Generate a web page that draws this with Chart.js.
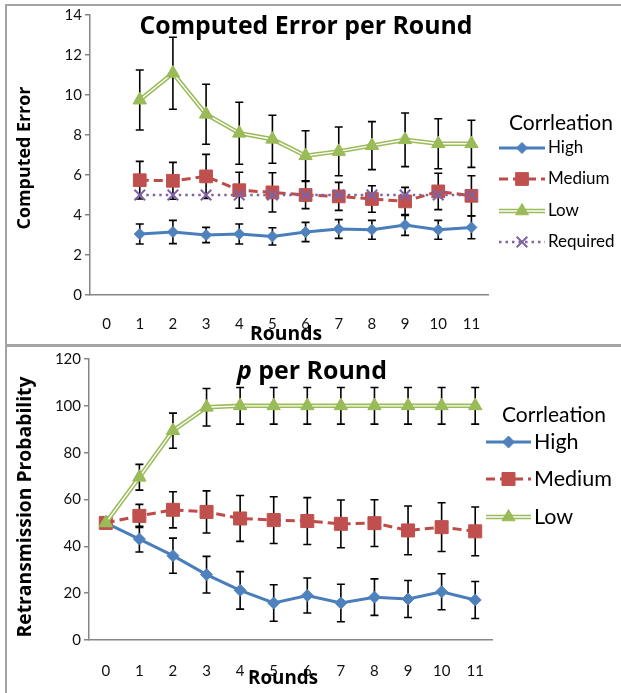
<!DOCTYPE html>
<html>
<head>
<meta charset="utf-8">
<script src="https://cdn.jsdelivr.net/npm/chart.js@4.4.0/dist/chart.umd.min.js"></script>
<style>
  body { margin: 0; background: #fff; width: 621px; height: 693px; overflow: hidden; position: relative; }
  .caixa { position: absolute; box-sizing: border-box; border: 2px solid #a3a3a3; background: #fff; }
  canvas { position: absolute; left: 0; }
</style>
</head>
<body>
<div class="caixa" style="left:5px; top:4px; width:700px; height:342px;"></div>
<div class="caixa" style="left:5px; top:345px; width:700px; height:400px;"></div>
<canvas id="graficoErro" width="621" height="345" style="top:0"></canvas>
<canvas id="graficoProb" width="621" height="348" style="top:345px"></canvas>
<script>
// Dados
const rodadas = ['0', '1', '2', '3', '4', '5', '6', '7', '8', '9', '10', '11'];

// Gráfico de cima: erro calculado por rodada
const erroAlta = [null, 3.05, 3.15, 3.0, 3.05, 2.93, 3.15, 3.3, 3.26, 3.5, 3.26, 3.38];
const erroAltaDesvio = [null, 0.5, 0.58, 0.38, 0.5, 0.43, 0.48, 0.47, 0.47, 0.52, 0.47, 0.57];
const erroMedia = [null, 5.74, 5.71, 5.93, 5.24, 5.13, 5.0, 4.93, 4.8, 4.68, 5.18, 4.96];
const erroMediaDesvio = [null, 0.94, 0.92, 1.1, 0.9, 0.98, 0.68, 0.7, 0.66, 0.7, 0.91, 1.0];
const erroBaixa = [null, 9.75, 11.09, 9.04, 8.09, 7.79, 6.96, 7.18, 7.47, 7.76, 7.56, 7.56];
const erroBaixaDesvio = [null, 1.5, 1.8, 1.5, 1.55, 1.2, 1.25, 1.22, 1.2, 1.34, 1.25, 1.18];
const erroRequerido = [null, 5, 5, 5, 5, 5, 5, 5, 5, 5, 5, 5];
const ticksErro = [0, 2, 4, 6, 8, 10, 12, 14];

// Gráfico de baixo: probabilidade de retransmissão
const probAlta = [50, 43.1, 36.0, 27.9, 21.2, 15.8, 19.0, 15.8, 18.3, 17.5, 20.6, 17.1];
const probAltaDesvio = [0, 5.5, 7.5, 7.8, 8.0, 7.8, 7.5, 8.0, 7.8, 7.9, 7.7, 7.9];
const probMedia = [50, 53.0, 55.6, 54.7, 51.9, 51.2, 50.8, 49.6, 49.9, 46.8, 48.2, 46.4];
const probMediaDesvio = [0, 4.9, 7.7, 9.0, 9.8, 10.0, 10.0, 10.2, 10.0, 10.4, 10.4, 10.4];
const probBaixa = [50, 69.5, 89.4, 99.4, 100, 100, 100, 100, 100, 100, 100, 100];
const probBaixaDesvio = [0, 5.5, 7.5, 8.0, 7.8, 7.8, 7.8, 7.8, 7.8, 7.8, 7.8, 7.8];
const ticksProb = [0, 20, 40, 60, 80, 100, 120];

const fonte = 'Lato, "Open Sans", sans-serif';
const fonteTitulo = '"Open Sans", Lato, sans-serif';
const corEixo = '#868686';

// Barras de erro (desenhadas antes de cada série, como no Excel)
const pluginErros = {
  id: 'barrasErro',
  beforeDatasetDraw(chart, args) {
    const ds = chart.data.datasets[args.index];
    if (!ds.desvios) return;
    const ctx = chart.ctx;
    const y = chart.scales.y;
    ctx.save();
    ctx.strokeStyle = '#000';
    ctx.lineWidth = 1.6;
    args.meta.data.forEach((pt, i) => {
      const v = ds.data[i], e = ds.desvios[i];
      if (v == null || !e) return;
      const yt = y.getPixelForValue(v + e);
      const yb = y.getPixelForValue(v - e);
      ctx.beginPath();
      ctx.moveTo(pt.x, yt); ctx.lineTo(pt.x, yb);
      ctx.moveTo(pt.x - 4, yt); ctx.lineTo(pt.x + 4, yt);
      ctx.moveTo(pt.x - 4, yb); ctx.lineTo(pt.x + 4, yb);
      ctx.stroke();
    });
    ctx.restore();
  },
  afterDatasetDraw(chart, args) {
    // linha dupla da série "Low"
    const ds = chart.data.datasets[args.index];
    if (!ds.linhaDupla) return;
    const ctx = chart.ctx;
    const pts = args.meta.data.filter((p, i) => ds.data[i] != null);
    ctx.save();
    ctx.strokeStyle = '#fff';
    ctx.lineWidth = 1.4;
    ctx.beginPath();
    pts.forEach((p, i) => i ? ctx.lineTo(p.x, p.y) : ctx.moveTo(p.x, p.y));
    ctx.stroke();
    ctx.restore();
    pts.forEach(p => p.draw(ctx, chart.chartArea));
  }
};

// tamanho de fonte para que o texto ocupe a largura pedida
function tamanhoPara(ctx, partes, estilo, familia, alvo) {
  let w = 0;
  partes.forEach(t => {
    ctx.font = (t.italico ? 'italic ' : '') + estilo + ' 20px ' + familia;
    w += ctx.measureText(t.texto).width;
  });
  return 20 * alvo / w;
}

// Títulos e legenda no estilo do Excel
const pluginTextos = {
  id: 'textos',
  afterDraw(chart, args, op) {
    const ctx = chart.ctx;
    ctx.save();
    ctx.fillStyle = '#000';
    ctx.textBaseline = 'middle';

    // título principal (partes com estilos diferentes)
    const tam = tamanhoPara(ctx, op.titulo, 'bold', fonteTitulo, op.tituloLargura);
    let largura = 0;
    op.titulo.forEach(t => {
      ctx.font = (t.italico ? 'italic ' : '') + 'bold ' + tam + 'px ' + fonteTitulo;
      t.w = ctx.measureText(t.texto).width;
      largura += t.w;
    });
    let x = op.tituloX - largura / 2;
    ctx.textAlign = 'left';
    op.titulo.forEach(t => {
      ctx.font = (t.italico ? 'italic ' : '') + 'bold ' + tam + 'px ' + fonteTitulo;
      ctx.fillText(t.texto, x, op.tituloY);
      x += t.w;
    });

    // títulos dos eixos
    ctx.textAlign = 'center';
    let s = tamanhoPara(ctx, [{ texto: 'Rounds' }], 'bold', fonteTitulo, op.eixoX[2]);
    ctx.font = 'bold ' + s + 'px ' + fonteTitulo;
    ctx.fillText('Rounds', op.eixoX[0], op.eixoX[1]);
    s = tamanhoPara(ctx, [{ texto: op.eixoYTexto }], 'bold', fonteTitulo, op.eixoY[2]);
    ctx.font = 'bold ' + s + 'px ' + fonteTitulo;
    ctx.save();
    ctx.translate(op.eixoY[0], op.eixoY[1]);
    ctx.rotate(-Math.PI / 2);
    ctx.fillText(op.eixoYTexto, 0, 0);
    ctx.restore();

    // legenda
    const lg = op.legenda;
    s = tamanhoPara(ctx, [{ texto: 'Corrleation' }], '', fonte, 104);
    ctx.font = s + 'px ' + fonte;
    ctx.fillText('Corrleation', lg.tituloX, lg.tituloY);
    chart.data.datasets.forEach((ds, i) => {
      const yy = lg.linhas[i];
      ctx.save();
      ctx.strokeStyle = ds.borderColor;
      ctx.lineWidth = ds.borderWidth;
      ctx.setLineDash(ds.borderDash || []);
      ctx.beginPath();
      ctx.moveTo(lg.x1, yy); ctx.lineTo(lg.x2, yy);
      ctx.stroke();
      if (ds.linhaDupla) {
        ctx.strokeStyle = '#fff';
        ctx.lineWidth = 1.4;
        ctx.beginPath();
        ctx.moveTo(lg.x1, yy); ctx.lineTo(lg.x2, yy);
        ctx.stroke();
      }
      ctx.setLineDash([]);
      ctx.fillStyle = ds.pointBackgroundColor;
      ctx.strokeStyle = ds.pointBorderColor;
      ctx.lineWidth = ds.pointBorderWidth;
      Chart.helpers.drawPoint(ctx, {
        pointStyle: ds.pointStyle, radius: ds.pointRadius, rotation: 0, borderWidth: ds.pointBorderWidth
      }, (lg.x1 + lg.x2) / 2, yy);
      ctx.restore();
      ctx.textAlign = 'left';
      ctx.font = lg.tamanho + 'px ' + fonte;
      ctx.fillText(ds.label, lg.x2 + 3, yy);
    });
    ctx.restore();
  }
};

function serie(label, data, desvios, estilo) {
  return Object.assign({ label, data, desvios, tension: 0, fill: false }, estilo);
}

function estiloAlta(r) {
  return { borderColor: '#4A7EBB', borderWidth: 3, pointStyle: 'rectRot', pointRadius: r,
    pointBackgroundColor: '#4F81BD', pointBorderColor: '#4F81BD', pointBorderWidth: 1, order: 4 };
}
function estiloMedia(r) {
  return { borderColor: '#BE4B48', borderWidth: 3, borderDash: [9, 5], pointStyle: 'rect', pointRadius: r,
    pointBackgroundColor: '#C0504D', pointBorderColor: '#C0504D', pointBorderWidth: 1, order: 3 };
}
function estiloBaixa(r) {
  return { borderColor: '#9BBB59', borderWidth: 4.5, linhaDupla: true, pointStyle: 'triangle', pointRadius: r,
    pointBackgroundColor: '#9BBB59', pointBorderColor: '#9BBB59', pointBorderWidth: 1, order: 2 };
}
const estiloRequerido = { borderColor: '#8064A2', borderWidth: 2.5, borderDash: [2.5, 4], pointStyle: 'crossRot',
  pointRadius: 7.5, pointBackgroundColor: '#8064A2', pointBorderColor: '#8064A2', pointBorderWidth: 2, order: 1 };

function escalas(ticks, larguraY, alturaX, padX) {
  return {
    x: {
      offset: true,
      grid: { display: false, drawTicks: false },
      border: { display: true, color: corEixo, width: 1.5 },
      ticks: { padding: padX, color: '#111', font: { family: fonte, size: 15 }, maxRotation: 0 },
      afterFit: s => { s.height = alturaX; }
    },
    y: {
      min: ticks[0], max: ticks[ticks.length - 1],
      grid: { drawOnChartArea: false, tickLength: 5, color: corEixo, lineWidth: 1.5 },
      border: { display: true, color: corEixo, width: 1.5 },
      ticks: { stepSize: ticks[1] - ticks[0], padding: 3, color: '#111', font: { family: fonte, size: 15 } },
      afterFit: s => { s.width = larguraY; }
    }
  };
}

new Chart(document.getElementById('graficoErro'), {
  type: 'line',
  data: {
    labels: rodadas,
    datasets: [
      serie('High', erroAlta, erroAltaDesvio, estiloAlta(5.5)),
      serie('Medium', erroMedia, erroMediaDesvio, estiloMedia(9)),
      serie('Low', erroBaixa, erroBaixaDesvio, estiloBaixa(7.5)),
      serie('Required', erroRequerido, null, estiloRequerido)
    ]
  },
  options: {
    responsive: false,
    animation: false,
    layout: { padding: { left: 0, right: 133, top: 15, bottom: 0 } },
    scales: escalas(ticksErro, 90, 50, 20),
    plugins: {
      legend: { display: false },
      tooltip: { enabled: false },
      textos: {
        titulo: [{ texto: 'Computed Error per Round' }],
        tituloX: 306, tituloY: 27, tituloLargura: 333,
        eixoX: [286, 334, 72],
        eixoY: [25, 158, 143], eixoYTexto: 'Computed Error',
        legenda: { tituloX: 561, tituloY: 123, x1: 499, x2: 545, tamanho: 17, linhas: [148, 179, 211, 242] }
      }
    }
  },
  plugins: [pluginErros, pluginTextos]
});

new Chart(document.getElementById('graficoProb'), {
  type: 'line',
  data: {
    labels: rodadas,
    datasets: [
      serie('High', probAlta, probAltaDesvio, estiloAlta(6)),
      serie('Medium', probMedia, probMediaDesvio, estiloMedia(9.2)),
      serie('Low', probBaixa, probBaixaDesvio, estiloBaixa(7.5))
    ]
  },
  options: {
    responsive: false,
    animation: false,
    layout: { padding: { left: 0, right: 129, top: 14, bottom: 0 } },
    scales: escalas(ticksProb, 89, 53, 22),
    plugins: {
      legend: { display: false },
      tooltip: { enabled: false },
      textos: {
        titulo: [{ texto: 'p', italico: true }, { texto: ' per Round' }],
        tituloX: 312, tituloY: 27, tituloLargura: 150,
        eixoX: [283, 334, 70],
        eixoY: [25, 162, 261], eixoYTexto: 'Retransmission Probability',
        legenda: { tituloX: 554, tituloY: 70, x1: 486, x2: 531, tamanho: 21.5, linhas: [97, 134, 172] }
      }
    }
  },
  plugins: [pluginErros, pluginTextos]
});
</script>
</body>
</html>
